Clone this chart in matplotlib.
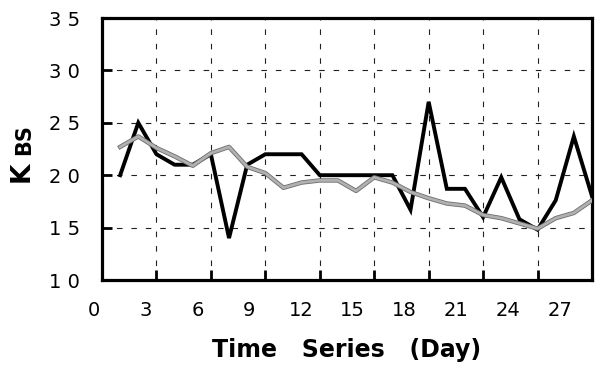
import numpy as np
import matplotlib
matplotlib.use("Agg")
import matplotlib.pyplot as plt
import matplotlib.patheffects as pe
import matplotlib.transforms as mtransforms

# data
days = list(range(1, 28))
kbs_black = [20, 25, 22, 21, 21, 22, 14, 21, 22, 22, 22, 20, 20, 20, 20, 20,
             16.7, 27, 18.7, 18.7, 16, 19.8, 15.8, 14.8, 17.6, 23.7, 18]
kbs_grey = [22.7, 23.7, 22.6, 21.8, 20.9, 22.1, 22.7, 20.8, 20.2, 18.8, 19.3, 19.5, 19.5, 18.5,
            19.8, 19.3, 18.4, 17.8, 17.3, 17.1, 16.2, 15.9, 15.4, 14.9, 15.9, 16.4, 17.6]
x_labels = [0, 3, 6, 9, 12, 15, 18, 21, 24, 27]
y_ticks = [10, 15, 20, 25, 30, 35]

plt.rcParams['font.family'] = ['DejaVu Sans']

fig = plt.figure(figsize=(6.09, 3.8), dpi=100)
ax = fig.add_axes([102/609, 100/380, 490/609, 262/380])

ax.plot(days, kbs_black, color="black", linewidth=2.8, solid_joinstyle='miter', zorder=3)
ax.plot(days, kbs_grey, color="#b0b0b0", linewidth=2.0, zorder=4,
        path_effects=[pe.Stroke(linewidth=3.2, foreground="#6e6e6e"), pe.Normal()])

ax.set_xlim(0, 27)
ax.set_ylim(10, 35)

# grid
ax.set_xticks(x_labels)
ax.set_yticks(y_ticks)
ax.grid(True, color="#222222", linestyle=(0, (5, 8)), linewidth=0.8)
ax.tick_params(axis='both', direction='in', length=7, width=2, color='black')
ax.set_xticklabels([])
ax.set_yticklabels([str(v)[0] + " " + str(v)[1] for v in y_ticks], fontsize=14)
ax.tick_params(axis='y', pad=16)

for s in ax.spines.values():
    s.set_linewidth(2.3)

# x tick labels sit on a slightly compressed scale in the original
trans = mtransforms.blended_transform_factory(ax.transData, ax.transAxes)
for v in x_labels:
    ax.text(0.95 * v - 0.44, -0.08, str(v), transform=trans, fontsize=14,
            ha='center', va='top', clip_on=False)

ax.set_xlabel("Time   Series   (Day)", fontsize=17, fontweight='bold', labelpad=38)

# y label: K with BS
fig.text(22/609, 1 - 172/380, "K", rotation=90, fontsize=19, fontweight='bold',
         ha='center', va='center')
fig.text(24/609, 1 - 140/380, "BS", rotation=90, fontsize=15, fontweight='bold',
         ha='center', va='center')

fig.savefig("out.png", dpi=100)
